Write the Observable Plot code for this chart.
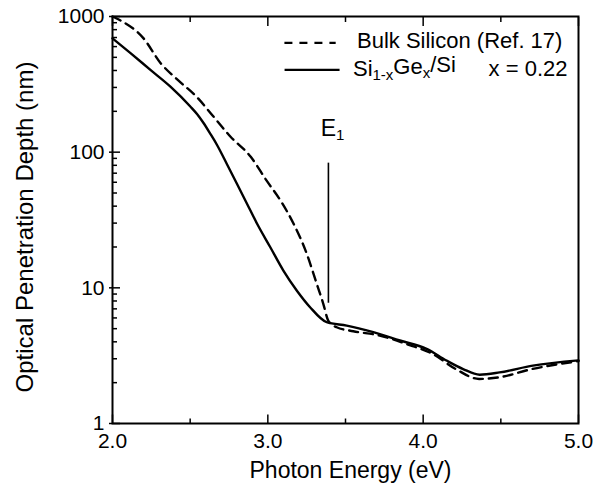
<!DOCTYPE html>
<html><head><meta charset="utf-8">
<script src="https://cdn.jsdelivr.net/npm/d3@7"></script>
<script src="https://cdn.jsdelivr.net/npm/@observablehq/plot@0.6"></script>
<style>
body{margin:0;background:#fff;}
#chart svg{font-family:"Liberation Sans",Arial,Helvetica,sans-serif;}
</style></head><body><div id="chart"></div>
<script>
// Bulk silicon (Ref. 17) — dashed
const bulkEnergy = [2.0, 2.04, 2.2, 2.31, 2.42, 2.54, 2.65, 2.76, 2.89, 2.99, 3.08, 3.165, 3.25, 3.315, 3.357, 3.389, 3.443, 3.55, 3.72, 3.89, 4.06, 4.21, 4.36, 4.49, 4.70, 5.0];
const bulkDepth  = [1000, 950, 690, 453, 341, 257, 183, 130, 92.5, 62.2, 44.3, 29.8, 17.9, 10.7, 7.63, 5.74, 5.12, 4.79, 4.45, 3.86, 3.26, 2.52, 2.13, 2.19, 2.52, 2.88];
// Si1-xGex/Si, x = 0.22 — solid
const sigeEnergy = [2.0, 2.116, 2.244, 2.373, 2.501, 2.544, 2.586, 2.629, 2.673, 2.737, 2.801, 2.865, 2.93, 3.015, 3.10, 3.186, 3.272, 3.379, 3.508, 3.679, 3.85, 4.022, 4.15, 4.257, 4.364, 4.492, 4.706, 5.0];
const sigeDepth  = [690, 537, 404, 304, 217, 191, 164, 137, 113, 81.5, 58.5, 41.9, 29.8, 20.0, 13.4, 9.57, 7.2, 5.58, 5.27, 4.71, 4.09, 3.55, 2.91, 2.52, 2.29, 2.38, 2.67, 2.92];

const xMajorTicks = [2, 3, 4, 5];
const xMinorTicks = [2.5, 3.5, 4.5];
const xTickLabels = ["2.0", "3.0", "4.0", "5.0"];
const yMajorTicks = [1, 10, 100, 1000];
const yTickLabels = ["1", "10", "100", "1000"];
const yMinorTicks = [2,3,4,5,6,7,8,9,20,30,40,50,60,70,80,90,200,300,400,500,600,700,800,900];

const seriesNames = ["Bulk Silicon (Ref. 17)", "Si1-xGex/Si"];
const compositionLabel = "x = 0.22";
const e1Label = "E1";
const e1Energy = 3.39;
const e1Range = [7.7, 83];
const xTitle = "Photon Energy (eV)";
const yTitle = "Optical Penetration Depth (nm)";

const bulk = bulkEnergy.map((e, i) => ({e, d: bulkDepth[i]}));
const sige = sigeEnergy.map((e, i) => ({e, d: sigeDepth[i]}));

const plot = Plot.plot({
  width: 604, height: 489,
  marginLeft: 112, marginRight: 26, marginTop: 16, marginBottom: 66,
  style: {fontFamily: '"Liberation Sans",Arial,sans-serif', fontSize: "21px", color: "#000", background: "#fff"},
  x: {domain: [2, 5]},
  y: {type: "log", domain: [1, 1000]},
  marks: [
    // inward ticks
    Plot.axisX({anchor: "bottom", ticks: xMinorTicks, tickSize: -4.5, fill: "none", label: null, strokeWidth: 1.5}),
    Plot.axisX({anchor: "bottom", ticks: xMajorTicks, tickSize: -8.5, fill: "none", label: null, strokeWidth: 1.5}),
    Plot.axisX({anchor: "top", ticks: xMinorTicks, tickSize: -5, fill: "none", label: null, strokeWidth: 1.5}),
    Plot.axisX({anchor: "top", ticks: xMajorTicks, tickSize: -9, fill: "none", label: null, strokeWidth: 1.5}),
    Plot.axisY({anchor: "left", ticks: yMinorTicks, tickSize: -5, fill: "none", label: null, strokeWidth: 1.5}),
    Plot.axisY({anchor: "left", ticks: yMajorTicks, tickSize: -8, fill: "none", label: null, strokeWidth: 1.5}),
    Plot.axisY({anchor: "left", ticks: yMajorTicks, tickSize: 3, fill: "none", label: null, strokeWidth: 1.5}),
    // tick labels
    Plot.axisX({anchor: "bottom", ticks: xMajorTicks, tickSize: 0, tickPadding: 10, label: null,
      tickFormat: d => xTickLabels[xMajorTicks.indexOf(d)], fontSize: 21}),
    Plot.axisY({anchor: "left", ticks: yMajorTicks, tickSize: 0, tickPadding: 8, label: null,
      tickFormat: d => yTickLabels[yMajorTicks.indexOf(d)], fontSize: 21}),
    // titles
    Plot.text([xTitle], {frameAnchor: "bottom", textAnchor: "middle", lineAnchor: "middle", dx: 5, dy: 47, fontSize: 23, text: d => d}),
    Plot.text([yTitle], {frameAnchor: "left", textAnchor: "middle", lineAnchor: "middle", rotate: -90, dx: -87, dy: 7, fontSize: 24, text: d => d}),
    Plot.frame({strokeWidth: 2}),
    // curves
    Plot.line(bulk, {x: "e", y: "d", curve: "monotone-x", strokeWidth: 2.4, strokeDasharray: "9,6"}),
    Plot.line(sige, {x: "e", y: "d", curve: "monotone-x", strokeWidth: 2.4}),
    // E1 marker
    Plot.ruleX([e1Energy], {y1: e1Range[0], y2: e1Range[1], strokeWidth: 1.6}),
    Plot.text([e1Label], {x: 3.34, y: 150, textAnchor: "start", lineAnchor: "middle", fontSize: 23, text: d => d}),
    // legend
    Plot.ruleY([640], {x1: 3.11, x2: 3.44, strokeWidth: 2.2, strokeDasharray: "8,7"}),
    Plot.ruleY([404], {x1: 3.111, x2: 3.465, strokeWidth: 2.4}),
    Plot.text([seriesNames[0]], {x: 3.574, y: 657, textAnchor: "start", lineAnchor: "middle", fontSize: 22, text: d => d}),
    Plot.text([seriesNames[1]], {x: 3.548, y: 411, textAnchor: "start", lineAnchor: "middle", fontSize: 22, text: d => d}),
    Plot.text([compositionLabel], {x: 4.929, y: 411, textAnchor: "end", lineAnchor: "middle", fontSize: 22, text: d => d})
  ]
});

// subscripts
d3.select(plot).selectAll("text").each(function() {
  const t = this.textContent;
  if (t === e1Label) {
    this.textContent = "";
    d3.select(this).append("tspan").text("E");
    d3.select(this).append("tspan").attr("dy", "0.3em").attr("font-size", "15px").text("1");
  } else if (t === seriesNames[1]) {
    this.textContent = "";
    const s = d3.select(this);
    s.append("tspan").text("Si");
    s.append("tspan").attr("dy", "0.3em").attr("font-size", "15px").text("1-x");
    s.append("tspan").attr("dy", "-0.3em").text("Ge");
    s.append("tspan").attr("dy", "0.3em").attr("font-size", "15px").text("x");
    s.append("tspan").attr("dy", "-0.3em").text("/Si");
  }
});

document.getElementById("chart").appendChild(plot);
</script>
</body></html>
